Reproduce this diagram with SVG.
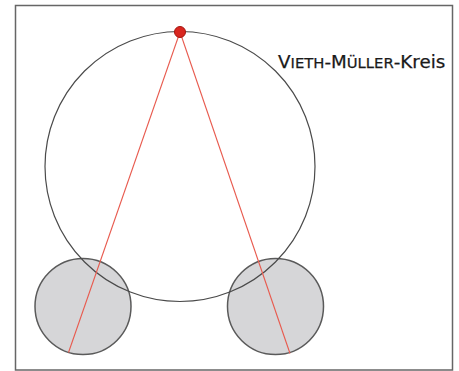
<svg xmlns="http://www.w3.org/2000/svg" width="459" height="371" viewBox="0 0 459 371">
<style>
.eye{fill:#d6d6d8;stroke:#5a5a5a;stroke-width:1.5}
.vm{fill:none;stroke:#4a4a4a;stroke-width:1.2}
.ray{stroke:#e85a4e;stroke-width:1.1;fill:none}
.lbl{font-family:"DejaVu Sans",Verdana,sans-serif;font-size:18.3px;fill:#1a1a1a;stroke:#1a1a1a;stroke-width:0.25}
</style>
<rect x="0" y="0" width="459" height="371" fill="#ffffff"/>
<rect x="15.5" y="5.5" width="437" height="364.5" fill="#ffffff" stroke="#666" stroke-width="1.5"/>
<g id="eye-left"><circle class="eye" cx="83" cy="306.5" r="48"/></g>
<g id="eye-right"><circle class="eye" cx="275.5" cy="306.5" r="48"/></g>
<g id="vieth-mueller-circle"><circle class="vm" cx="180" cy="166.5" r="135"/></g>
<g id="connectors">
<line class="ray" x1="180" y1="32" x2="68.5" y2="352.5"/>
<line class="ray" x1="180" y1="32" x2="290" y2="353.5"/>
</g>
<g id="fixation-point"><circle cx="180" cy="32" r="5.5" fill="#d9261f" stroke="#a5150f" stroke-width="1"/></g>
<g id="label">
<text class="lbl" x="278" y="68">V<tspan font-size="14.8">IETH</tspan>-M<tspan font-size="14.8">ÜLLER</tspan>-Kreis</text>
</g>
</svg>
